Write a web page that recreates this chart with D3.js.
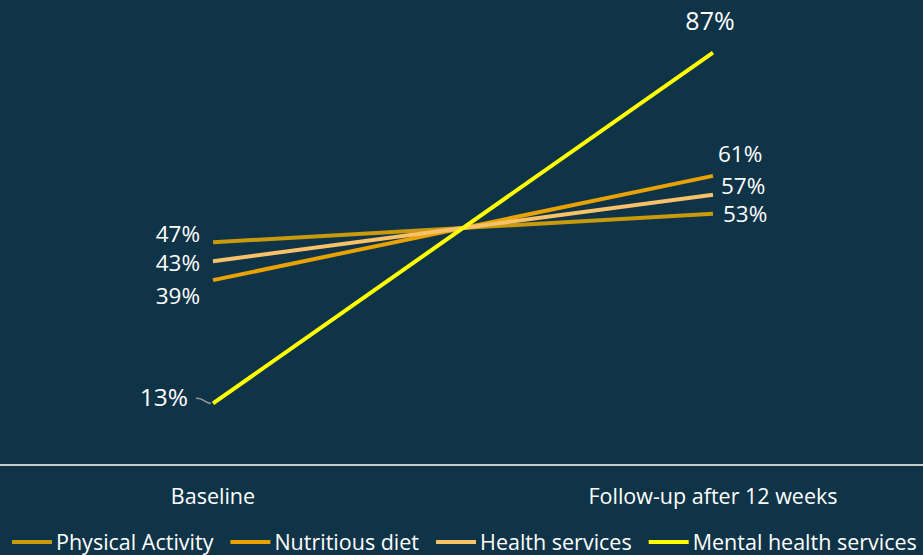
<!DOCTYPE html>
<html>
<head>
<meta charset="utf-8">
<script src="https://cdn.jsdelivr.net/npm/d3@7"></script>
<style>
  html, body { margin: 0; padding: 0; background: #0f3347; }
  svg { display: block; }
</style>
</head>
<body>
<div id="chart"></div>
<script>
const periods = ['Baseline', 'Follow-up after 12 weeks'];
const seriesNames = ['Physical Activity', 'Nutritious diet', 'Health services', 'Mental health services'];
const baselineValues = [47, 39, 43, 13];
const followupValues = [53, 61, 57, 87];
const seriesColors = ['#c99a0c', '#e8a202', '#f8c26a', '#ffff00'];

const width = 923, height = 555;
const font = '"Open Sans", sans-serif';

const svg = d3.select('#chart').append('svg')
  .attr('width', width)
  .attr('height', height);

svg.append('rect').attr('width', width).attr('height', height).attr('fill', '#0f3347');

const x = d3.scalePoint().domain(periods).range([213, 713]);
const y = d3.scaleLinear().domain([0, 100]).range([465, -9]);

// baseline axis
svg.append('line')
  .attr('x1', 0).attr('x2', width)
  .attr('y1', y(0)).attr('y2', y(0))
  .attr('stroke', '#c8cbcd').attr('stroke-width', 2);

// category labels
svg.selectAll('text.cat')
  .data(periods)
  .join('text')
  .attr('class', 'cat')
  .attr('x', d => x(d))
  .attr('y', 496)
  .attr('dy', '0.35em')
  .attr('text-anchor', 'middle')
  .attr('fill', '#ffffff')
  .attr('font-family', font)
  .attr('font-size', 21.5)
  .text(d => d);

const series = seriesNames.map((name, i) => ({
  name,
  color: seriesColors[i],
  values: [baselineValues[i], followupValues[i]]
}));

const line = d3.line()
  .x((d, i) => x(periods[i]))
  .y(d => y(d));

svg.append('g').selectAll('path')
  .data(series)
  .join('path')
  .attr('d', d => line(d.values))
  .attr('fill', 'none')
  .attr('stroke', d => d.color)
  .attr('stroke-width', 4);

// value labels: offsets to keep them from colliding, like the hand-placed originals
const leftOffsets = [{dx: -13, dy: -8}, {dx: -13, dy: 16}, {dx: -13, dy: 2}, {dx: -25, dy: -6}];
const rightOffsets = [{dx: 10, dy: 0}, {dx: 5, dy: -22}, {dx: 8, dy: -9}, {dx: -3, dy: -31}];

svg.append('g').selectAll('text')
  .data(series)
  .join('text')
  .attr('x', (d, i) => x(periods[0]) + leftOffsets[i].dx)
  .attr('y', (d, i) => y(d.values[0]) + leftOffsets[i].dy)
  .attr('dy', '0.35em')
  .attr('text-anchor', 'end')
  .attr('fill', '#ffffff')
  .attr('font-family', font)
  .attr('font-size', (d, i) => i === 3 ? 24.5 : 22.5)
  .text(d => d.values[0] + '%');

svg.append('g').selectAll('text')
  .data(series)
  .join('text')
  .attr('x', (d, i) => x(periods[1]) + rightOffsets[i].dx)
  .attr('y', (d, i) => y(d.values[1]) + rightOffsets[i].dy)
  .attr('dy', '0.35em')
  .attr('text-anchor', (d, i) => i === 3 ? 'middle' : 'start')
  .attr('fill', '#ffffff')
  .attr('font-family', font)
  .attr('font-size', (d, i) => i === 3 ? 25 : 22.5)
  .text(d => d.values[1] + '%');

// leader line for the 13% label
const mx = x(periods[0]), my = y(baselineValues[3]);
svg.append('path')
  .attr('d', `M${mx - 17},${my - 5} C${mx - 10},${my - 6} ${mx - 8},${my} ${mx - 2},${my}`)
  .attr('fill', 'none')
  .attr('stroke', '#9a9a9a')
  .attr('stroke-width', 1.5);

// legend
const legend = svg.append('g').attr('transform', 'translate(12,542)');
let lx = 0;
series.forEach(s => {
  const g = legend.append('g').attr('transform', `translate(${lx},0)`);
  g.append('line')
    .attr('x1', 0).attr('x2', 40)
    .attr('y1', 0).attr('y2', 0)
    .attr('stroke', s.color).attr('stroke-width', 4);
  const t = g.append('text')
    .attr('x', 44)
    .attr('dy', '0.35em')
    .attr('fill', '#ffffff')
    .attr('font-family', font)
    .attr('font-size', 21.5)
    .text(s.name);
  lx += 44 + t.node().getComputedTextLength() + 17;
});
</script>
</body>
</html>
